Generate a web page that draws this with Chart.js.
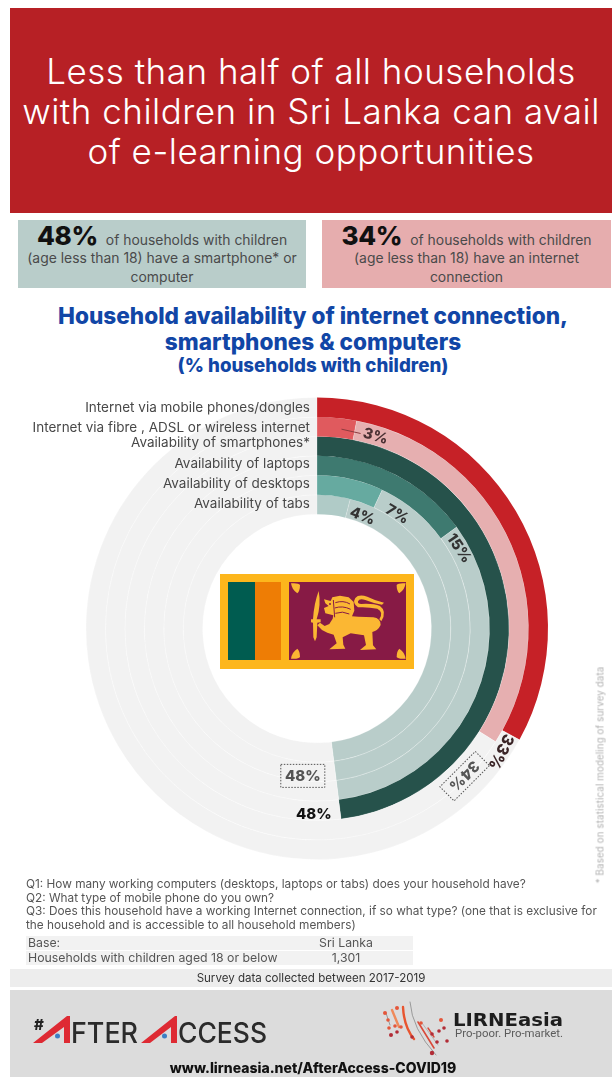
<!DOCTYPE html>
<html lang="en">
<head>
<meta charset="utf-8">
<title>E-learning access in Sri Lanka</title>
<script src="https://cdn.jsdelivr.net/npm/chart.js@4"></script>
<style>
  html, body { margin: 0; padding: 0; background: #fff; overflow: hidden; }
  body { width: 612px; height: 1077px; position: relative; font-family: Inter, "Open Sans", sans-serif; color: #444; }
  .abs { position: absolute; }
  .ctr { text-align: center; white-space: nowrap; }
  #headline { left: 10px; top: 8px; width: 602px; height: 205px; background: #b72025; color: #fff;
    font-size: 35px; line-height: 40px; font-weight: 300; letter-spacing: .5px; box-sizing: border-box; padding-top: 43px; }
  .stat { top: 220px; height: 68px; font-size: 13.9px; line-height: 18.4px; color: #4a4a4a; }
  .stat b { font-size: 26px; line-height: 26px; color: #111; font-weight: 800; margin-right: 4px; letter-spacing: -.3px; }
  #heading { left: 0; top: 303px; width: 626px; color: #1146a6; font-weight: 800; }
  #heading div { font-size: 22.6px; line-height: 26px; }
  #heading div.sub { font-size: 18.7px; line-height: 21px; }
  #questions { left: 26px; top: 878px; width: 584px; font-size: 11.8px; line-height: 13.6px; color: #555; }
  .row { left: 26px; width: 387px; height: 14px; background: #f2f2f2; font-size: 12.3px; line-height: 14px; color: #555; }
  .row span { position: absolute; top: 0; }
  #survey { left: 10px; top: 969px; width: 602px; height: 18px; background: #ededed; font-size: 11.55px; line-height: 18px; color: #333; }
  #footer { left: 10px; top: 990px; width: 602px; height: 87px; background: #dcdcdc; }
  #url { left: 0; top: 1060px; width: 626px; font-size: 14px; line-height: 16px; font-weight: 800; color: #111; }
  #note { left: 600px; top: 775px; font-size: 9.8px; color: #b3b3b3; transform: translate(-50%,-50%) rotate(-90deg); white-space: nowrap; letter-spacing: .1px; }
  canvas { position: absolute; left: 22px; top: 397px; }
  svg { position: absolute; left: 0; top: 0; pointer-events: none; }
</style>
</head>
<body>
<div id="headline" class="abs ctr">Less than half of all households<br>with children in Sri Lanka can avail<br>of e-learning opportunities</div>

<div class="abs stat ctr" style="left:18px;width:288px;background:#b9cdca;padding-top:3px;height:65px"><b>48%</b> of households with children<br>(age less than 18) have a smartphone* or<br>computer</div>
<div class="abs stat ctr" style="left:322px;width:289px;background:#e6adae;padding-top:3px;height:65px"><b>34%</b> of households with children<br>(age less than 18) have an internet<br>connection</div>

<div id="heading" class="abs ctr"><div>Household availability of internet connection,</div><div>smartphones &amp; computers</div><div class="sub">(% households with children)</div></div>

<canvas id="rings" width="590" height="463"></canvas>

<div id="note" class="abs">* Based on statistical modeling of survey data</div>

<div id="questions" class="abs">Q1: How many working computers (desktops, laptops or tabs) does your household have?<br>Q2: What type of mobile phone do you own?<br>Q3: Does this household have a working Internet connection, if so what type? (one that is exclusive for<br>the household and is accessible to all household members)</div>

<div class="abs row" style="top:936px"><span style="left:2px">Base:</span><span style="left:270px;width:100px;text-align:center">Sri Lanka</span></div>
<div class="abs row" style="top:951px"><span style="left:2px">Households with children aged 18 or below</span><span style="left:270px;width:100px;text-align:center">1,301</span></div>

<div id="survey" class="abs ctr">Survey data collected between 2017-2019</div>
<div id="footer" class="abs"></div>
<div id="url" class="abs ctr">www.lirneasia.net/AfterAccess-COVID19</div>

<!-- Flag in the hole of the rings, and the two organisation marks in the footer -->
<svg width="612" height="1077" viewBox="0 0 612 1077" xmlns="http://www.w3.org/2000/svg">
  <rect x="220" y="574" width="194" height="95" fill="#fdb61c"/>
  <rect x="228" y="582" width="27" height="78" fill="#005c50"/>
  <rect x="255" y="582" width="26" height="78" fill="#ee7d05"/>
  <rect x="289" y="582" width="117" height="78" fill="#871a45"/>
  <g transform="translate(290 580) scale(.3333)" fill="#fbb733">
    <path d="M3 10 Q25 8 30 15 Q30 33 22 40 Q6 30 3 10Z"/>
    <path d="M347 10 Q325 8 320 15 Q320 33 328 40 Q344 30 347 10Z"/>
    <path d="M3 236 Q25 238 30 231 Q30 213 22 206 Q6 216 3 236Z"/>
    <path d="M347 236 Q325 238 320 231 Q320 213 328 206 Q344 216 347 236Z"/>
    <path d="M86 33 Q94 75 80 118 L92 118 L92 127 L82 128 L80 172 L75 184 L70 172 L69 128 L63 127 L63 118 L69 118 Q72 70 86 33Z"/>
    <path d="M102 58 L122 63 L127 52 L150 47 L176 52 L191 66 L193 92 L186 109 L205 110 L250 112 Q272 115 272 135 Q264 152 247 156 L249 196 L259 208 L210 210 L228 195 L222 166 L182 160 L158 172 L160 194 L166 206 L118 208 L140 190 L131 164 L112 158 L96 150 L82 136 L90 128 L104 138 L118 132 L128 116 L130 106 L106 100 L102 84 L116 78 L106 70Z"/>
    <path d="M268 118 Q282 96 262 86 Q232 80 204 82 Q186 70 196 54 Q206 42 232 50 Q256 62 282 68 L276 74 Q250 70 226 60 Q208 54 204 64 Q202 72 214 72 Q250 70 270 78 Q292 94 274 124Z"/>
    <g fill="none" stroke="#871a45" stroke-width="3">
      <path d="M136 68 Q160 60 180 72 M134 84 Q158 76 182 88 M136 100 Q158 92 178 102"/>
      <path d="M130 60 L134 112"/>
    </g>
    <circle cx="120" cy="72" r="3" fill="#871a45"/>
  </g>

  <g transform="translate(20 1005)">
    <text x="14" y="25" font-family="Inter" font-weight="800" font-size="15" fill="#222">#</text>
    <path d="M13 38 L47 11 L50 11 L50 38 L44 38 L44 22 L22 38Z" fill="#de2a33"/>
    <circle cx="37.5" cy="31" r="2.5" fill="#3d7fc4"/>
    <text x="51" y="38" font-family="Inter" font-weight="500" font-size="28" fill="#2b2b2b" textLength="67" lengthAdjust="spacingAndGlyphs">FTER</text>
    <path d="M121 38 L155 11 L157 11 L157 38 L151 38 L151 22 L130 38Z" fill="#de2a33"/>
    <circle cx="144.5" cy="31" r="2.5" fill="#3d7fc4"/>
    <text x="158" y="38" font-family="Inter" font-weight="500" font-size="28" fill="#2b2b2b" textLength="89" lengthAdjust="spacingAndGlyphs">CCESS</text>
  </g>

  <g transform="translate(370 995)">
    <g fill="none" stroke-linecap="round">
      <path d="M40 7 Q42 34 66 60" stroke="#9a9a9a" stroke-width="1"/>
      <path d="M33 12 Q34 32 44 44" stroke="#e8552f" stroke-width="2.4"/>
      <path d="M22 15 L29 32" stroke="#ef8a5a" stroke-width="2.4"/>
      <path d="M16 18 L20 30" stroke="#9a9a9a" stroke-width="1"/>
      <path d="M48 27 L64 53" stroke="#d94a3a" stroke-width="1.6"/>
      <path d="M52 28 L68 50" stroke="#b4b4b4" stroke-width="1"/>
      <path d="M58 33 L64 42" stroke="#d94a3a" stroke-width="1.4"/>
    </g>
    <g fill="#e4563a">
      <circle cx="15" cy="18" r="2"/><circle cx="27" cy="13" r="2"/><circle cx="18" cy="25" r="1.8"/>
      <circle cx="19" cy="33" r="1.8"/><circle cx="25" cy="31" r="1.8"/><circle cx="31" cy="32" r="1.8"/>
      <circle cx="51" cy="28" r="1.8"/><circle cx="71" cy="25" r="2"/>
    </g>
    <g fill="#b22c36">
      <circle cx="21" cy="40" r="2"/><circle cx="27" cy="37" r="1.8"/><circle cx="42" cy="42" r="1.8"/>
      <circle cx="62" cy="39" r="1.8"/><circle cx="69" cy="36" r="1.8"/><circle cx="74" cy="33" r="1.8"/>
      <circle cx="67" cy="47" r="1.8"/><circle cx="77" cy="46" r="1.8"/><circle cx="62" cy="58" r="2.2"/>
    </g>
    <text x="83" y="31" font-family="DejaVu Sans" font-weight="700" font-size="17" fill="#1d1d1d" textLength="110" lengthAdjust="spacingAndGlyphs">LIRNEasia</text>
    <text x="85" y="42" font-family="Roboto" font-size="10.5" fill="#5b5b5b" textLength="108" lengthAdjust="spacingAndGlyphs">Pro-poor. Pro-market.</text>
  </g>
</svg>

<script>
// Rings from the outside in
const measures = [
  'Internet via mobile phones/dongles',
  'Internet via fibre , ADSL or wireless internet',
  'Availability of smartphones*',
  'Availability of laptops',
  'Availability of desktops',
  'Availability of tabs'
];
// Share of households with children, in percent
const shares = [33, 3, 48, 15, 7, 4];
// Family total each ring is shaded up to
const familyTotals = [33, 34, 48, 48, 48, 48];
const valueLabels = ['33%', '3%', '48%', '15%', '7%', '4%'];

const valueColors = ['#c62127', '#e05a5e', '#26524b', '#3e7a70', '#66aaa0', '#b0cbc7'];
const familyColors = ['#f2f2f2', '#e6afb0', '#26524b', '#b9cdca', '#b9cdca', '#b9cdca'];
const idleColor = '#f2f2f2';
const seamColor = 'rgba(255,255,255,.25)';

// Where each figure sits relative to the end of its arc
const labelPlacement = [
  { deg: 5, spin: 117, dr: 1, font: '800 16px Inter', color: '#3a2426' },
  { deg: 6.1, spin: 17, dr: 0, font: '800 15px Inter', color: '#4a3033' },
  { deg: 8.2, spin: 0, dr: 3, font: '800 15px Inter', color: '#111' },
  { deg: 6.5, spin: 56, dr: 1, font: '800 15px Inter', color: '#333' },
  { deg: 9.8, spin: 31, dr: -3, font: '800 15px Inter', color: '#333' },
  { deg: 7.6, spin: 21, dr: -2, font: '800 15px Inter', color: '#333' }
];
// Dotted totals for the internet and the device families
const boxedTotals = [
  { text: '34%', ring: 1, value: 34, deg: 12.6, dr: 7, spin: 135, w: 50, h: 20 },
  { text: '48%', ring: 5, value: 48, deg: 12.7, dr: 24, spin: 0, w: 44, h: 23 }
];
const labelNudge = [1, 1, -3, -2, -1, 0];

const rad = d => d * Math.PI / 180;

const ringAnnotations = {
  id: 'ringAnnotations',
  afterDatasetsDraw(chart) {
    const { ctx } = chart;
    const arcOf = ring => chart.getDatasetMeta(ring).data[0];
    const pointAt = (arc, r, deg) => ({
      x: arc.x + r * Math.sin(rad(deg)),
      y: arc.y - r * Math.cos(rad(deg))
    });
    const midR = arc => (arc.innerRadius + arc.outerRadius) / 2;
    ctx.save();
    ctx.textBaseline = 'middle';

    // Ring names, set against the start of each ring
    ctx.font = '400 13.5px Inter';
    ctx.fillStyle = '#484848';
    ctx.textAlign = 'right';
    measures.forEach((name, i) => {
      const arc = arcOf(i);
      ctx.fillText(name, arc.x - 7, arc.y - midR(arc) + labelNudge[i]);
    });

    // Leader from the fibre arc to its figure
    const fibre = arcOf(1);
    const a = pointAt(fibre, midR(fibre) - 1, 7);
    const b = pointAt(fibre, midR(fibre) - 2, 12.6);
    ctx.strokeStyle = '#8c3b3e';
    ctx.lineWidth = 1;
    ctx.beginPath();
    ctx.moveTo(a.x, a.y);
    ctx.lineTo(b.x, b.y);
    ctx.stroke();

    // Figures that follow the end of each arc
    ctx.textAlign = 'center';
    shares.forEach((share, i) => {
      const arc = arcOf(i);
      const place = labelPlacement[i];
      const p = pointAt(arc, midR(arc) + place.dr, share * 3.6 + place.deg);
      ctx.save();
      ctx.translate(p.x, p.y);
      ctx.rotate(rad(place.spin));
      ctx.font = place.font;
      ctx.fillStyle = place.color;
      ctx.fillText(valueLabels[i], 0, 1);
      ctx.restore();
    });

    // Dotted boxes with the family totals
    boxedTotals.forEach(box => {
      const arc = arcOf(box.ring);
      const p = pointAt(arc, midR(arc) + box.dr, box.value * 3.6 + box.deg);
      ctx.save();
      ctx.translate(p.x, p.y);
      ctx.rotate(rad(box.spin));
      ctx.setLineDash([1.5, 1.5]);
      ctx.strokeStyle = '#555';
      ctx.lineWidth = 1;
      ctx.strokeRect(-box.w / 2, -box.h / 2, box.w, box.h);
      ctx.font = '800 15px Inter';
      ctx.fillStyle = '#555';
      ctx.fillText(box.text, 0, 1);
      ctx.restore();
    });
    ctx.restore();
  }
};

// Chart.js places the first doughnut dataset on the outermost ring
const datasets = measures.map((name, i) => {
  const share = shares[i];
  const family = familyTotals[i];
  const hasFamily = family > share;
  return {
    label: name,
    data: hasFamily ? [share, family - share, 100 - family] : [share, 100 - share],
    backgroundColor: hasFamily ? [valueColors[i], familyColors[i], idleColor] : [valueColors[i], idleColor],
    borderColor: hasFamily ? ['rgba(0,0,0,0)', seamColor, seamColor] : ['rgba(0,0,0,0)', seamColor],
    borderWidth: 1,
    borderAlign: 'center',
    hoverOffset: 0
  };
});

new Chart(document.getElementById('rings'), {
  type: 'doughnut',
  data: { labels: ['Share', 'Family total', 'Remainder'], datasets },
  options: {
    responsive: false,
    animation: false,
    cutout: '49.5%',
    layout: { padding: 0 },
    plugins: { legend: { display: false }, tooltip: { enabled: false } }
  },
  plugins: [ringAnnotations]
});
</script>
</body>
</html>
